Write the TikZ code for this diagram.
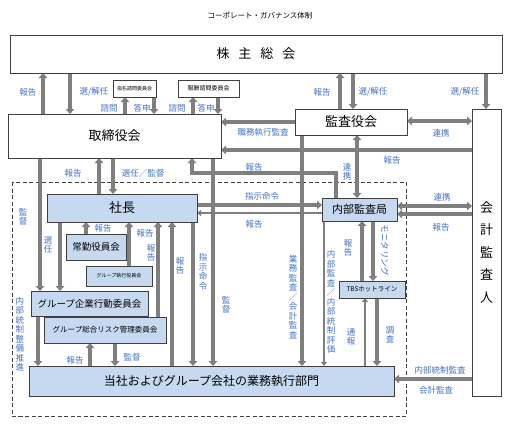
\documentclass[tikz,border=0pt]{standalone}
\usepackage{fontspec}
\setmainfont{Noto Sans CJK JP}
\usetikzlibrary{arrows.meta,backgrounds}
\definecolor{lineg}{HTML}{7F7F7F}
\definecolor{boxb}{HTML}{C6D9F1}
\definecolor{lblue}{HTML}{4472C4}
\definecolor{bord}{HTML}{3F3F3F}
\newcommand\myfs[1]{\fontsize{#1}{#1}\selectfont}
\begin{document}
\begin{tikzpicture}[x=1pt,y=-1pt,
  wbox/.style={draw=bord, line width=1pt, fill=white, anchor=north west, inner sep=0pt, outer sep=0pt, text=black},
  bbox/.style={wbox, fill=boxb},
  con/.style={draw=lineg, line width=3.5pt, -{Triangle[width=8.5pt,length=5pt]}},
  con2/.style={draw=lineg, line width=3.5pt, {Triangle[width=8.5pt,length=5pt]}-{Triangle[width=8.5pt,length=5pt]}},
  thn/.style={draw=lineg, line width=2pt, -{Triangle[width=6pt,length=4pt]}},
  lbl/.style={text=lblue, font=\myfs{8.5}, inner sep=0pt},
  vl/.style={text=lblue, inner sep=0pt, align=center, font=\fontsize{8.5}{9.5}\selectfont},
]
\useasboundingbox (0,0) rectangle (516,426);

% title
\node[inner sep=0pt] (title) at (260,16) {\myfs{7.5}コーポレート・ガバナンス体制};

% boxes
\node[wbox, minimum width=492pt, minimum height=38pt] (shr) at (10,35) {\myfs{13}株\hspace{9pt}主\hspace{9pt}総\hspace{9pt}会};
\node[wbox, minimum width=213pt, minimum height=44pt] (bod) at (8,114) {\myfs{13}取締役会};
\node[wbox, minimum width=43pt, minimum height=17pt] (nom) at (113,80) {\myfs{5}指名諮問委員会};
\node[wbox, minimum width=61pt, minimum height=17pt] (rem) at (178,80) {\myfs{6}報酬諮問委員会};
\node[wbox, minimum width=112pt, minimum height=26pt] (bia) at (295,109) {\myfs{13}監査役会};
\node[wbox, minimum width=29pt, minimum height=287pt, align=center, font=\fontsize{13}{22.5}\selectfont] (aud) at (472,109) {会\\計\\監\\査\\人};
\node[bbox, minimum width=150pt, minimum height=28pt] (pres) at (47,194) {\myfs{13}社長};
\node[bbox, minimum width=75pt, minimum height=23pt] (iad) at (322,198) {\myfs{11}内部監査局};
\node[bbox, minimum width=60pt, minimum height=26pt] (jok) at (66,234) {\myfs{9.5}常勤役員会};
\node[bbox, minimum width=66pt, minimum height=20pt] (gex) at (86,266) {\myfs{5}グループ執行役員会};
\node[bbox, minimum width=117pt, minimum height=25pt] (gcc) at (31,291) {\myfs{9.5}グループ企業行動委員会};
\node[bbox, minimum width=122pt, minimum height=26pt] (grm) at (44,317) {\myfs{7.5}グループ総合リスク管理委員会};
\node[bbox, minimum width=66pt, minimum height=17pt] (tbs) at (339,281) {\myfs{6.5}TBSホットライン};
\node[bbox, minimum width=365pt, minimum height=30pt] (biz) at (29,366) {\myfs{12}当社およびグループ会社の業務執行部門};

% connectors
\begin{scope}[on background layer]
\fill[white] (0,0) rectangle (516,426);
\draw[bord, line width=0.9pt, dash pattern=on 4pt off 2.5pt] (12,182) rectangle (406,416);
\draw[con] (43,0 |- bod.north) -- (43,0 |- shr.south);
\draw[con] (70,0 |- shr.south) -- (70,0 |- bod.north);
\draw[con] (125,0 |- bod.north) -- (125,0 |- nom.south);
\draw[con] (154,0 |- nom.south) -- (154,0 |- bod.north);
\draw[con] (193,0 |- bod.north) -- (193,0 |- rem.south);
\draw[con] (218,0 |- rem.south) -- (218,0 |- bod.north);
\draw[con] (340,0 |- bia.north) -- (340,0 |- shr.south);
\draw[con] (353,0 |- shr.south) -- (353,0 |- bia.north);
\draw[con] (486,0 |- shr.south) -- (486,0 |- aud.north);
\draw[con] (bia.west |- 0,122) -- (bod.east |- 0,122);
\draw[con2] (bia.east |- 0,121) -- (aud.west |- 0,121);
\draw[con] (aud.west |- 0,150) -- (bod.east |- 0,150);
\draw[con] (336,0 |- iad.north) -- (336,173) -- (192,173) -- (192,0 |- bod.south);
\draw[con2] (357,0 |- bia.south) -- (357,0 |- iad.north);
\draw[con] (302,0 |- bia.south) -- (302,0 |- biz.north);
\draw[con] (99,0 |- pres.north) -- (99,0 |- bod.south);
\draw[con] (113,0 |- bod.south) -- (113,0 |- pres.north);
\draw[con] (40,0 |- bod.south) -- (40,0 |- gcc.north);
\draw[con] (60,0 |- pres.south) -- (60,0 |- gcc.north);
\draw[con] (86,0 |- jok.north) -- (86,0 |- pres.south);
\draw[con] (129,0 |- gex.north) -- (129,0 |- pres.south);
\draw[con] (158,0 |- grm.north) -- (158,0 |- pres.south);
\draw[con] (172,0 |- biz.north) -- (172,0 |- pres.south);
\draw[con] (193,0 |- pres.south) -- (193,0 |- biz.north);
\draw[con] (213,0 |- bod.south) -- (213,0 |- biz.north);
\draw[con] (38,0 |- gcc.south) -- (38,0 |- biz.north);
\draw[con] (90,0 |- biz.north) -- (90,0 |- grm.south);
\draw[con] (115,0 |- grm.south) -- (115,0 |- biz.north);
\draw[con] (pres.east |- 0,205) -- (iad.west |- 0,205);
\draw[thn] (iad.west |- 0,213) -- (pres.east |- 0,213);
\draw[con2] (iad.east |- 0,206) -- (aud.west |- 0,206);
\draw[con] (aud.west |- 0,214) -- (iad.east |- 0,214);
\draw[thn] (324,0 |- iad.south) -- (324,0 |- biz.north);
\draw[con] (362,0 |- tbs.north) -- (362,0 |- iad.south);
\draw[con] (373,0 |- iad.south) -- (373,0 |- tbs.north);
\draw[thn] (365,0 |- biz.north) -- (365,0 |- tbs.south);
\draw[con] (377,0 |- tbs.south) -- (377,0 |- biz.north);
\draw[con] (aud.west |- 0,379) -- (biz.east |- 0,379);
\end{scope}

% labels
\node[lbl] (l1) at (28,92) {報告};
\node[lbl] (l2) at (94,92) {選/解任};
\node[lbl] (l3) at (109,108) {諮問};
\node[lbl] (l4) at (142,108) {答申};
\node[lbl] (l5) at (177,108) {諮問};
\node[lbl] (l6) at (206,108) {答申};
\node[lbl] (l7) at (322,92) {報告};
\node[lbl] (l8) at (373,92) {選/解任};
\node[lbl] (l9) at (465,92) {選/解任};
\node[lbl] (l10) at (263,132) {職務執行監査};
\node[lbl] (l11) at (441,133) {連携};
\node[lbl] (l12) at (392,160) {報告};
\node[lbl] (l13) at (254,167) {報告};
\node[vl] (l14) at (347,172) {連\\携};
\node[lbl] (l15) at (73,173) {報告};
\node[lbl] (l16) at (143,173) {選任／監督};
\node[vl] (l17) at (23,217) {監\\督};
\node[vl] (l18) at (48,245) {選\\任};
\node[lbl] (l19) at (103,228) {報告};
\node[lbl] (l20) at (145,233) {報告};
\node[vl] (l21) at (151,253) {報\\告};
\node[vl] (l22) at (180,266) {報\\告};
\node[vl] (l23) at (203,272) {指\\示\\命\\令};
\node[vl] (l24) at (226,305) {監\\督};
\node[lbl] (l25) at (262,196) {指示命令};
\node[lbl] (l26) at (254,224) {報告};
\node[vl] (l27) at (293,297) {業\\務\\監\\査\\／\\会\\計\\監\\査};
\node[vl] (l28) at (331,302) {内\\部\\監\\査\\／\\内\\部\\統\\制\\評\\価};
\node[vl] (l29) at (348,248) {報\\告};
\node[lbl, rotate=-90] (l30) at (385,250) {モニタリング};
\node[lbl] (l31) at (442,197) {連携};
\node[lbl] (l32) at (441,227) {報告};
\node[vl] (l33) at (351,337) {通\\報};
\node[vl] (l34) at (390,335) {調\\査};
\node[lbl] (l35) at (440,370) {内部統制監査};
\node[lbl] (l36) at (436,390) {会計監査};
\node[lbl] (l37) at (75,360) {報告};
\node[lbl] (l38) at (132,357) {監督};
\node[vl] (l39) at (20,334) {内\\部\\統\\制\\整\\備\\推\\進};
\end{tikzpicture}
\end{document}
